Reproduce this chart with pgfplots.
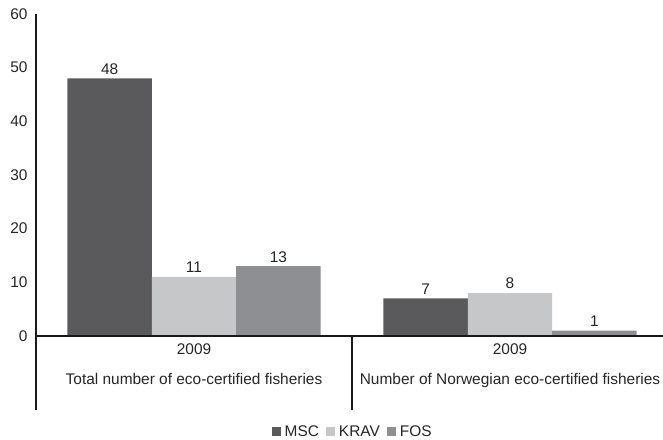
\documentclass[border=0pt]{standalone}
\usepackage{pgfplots}
\pgfplotsset{compat=1.18}
\usepackage{fontspec}
\setmainfont{Liberation Sans}
\definecolor{msc}{HTML}{5A5A5C}
\definecolor{krav}{HTML}{C6C7C9}
\definecolor{fos}{HTML}{8E8F92}
\newcommand{\f}{\fontsize{15.5}{18}\selectfont}
\begin{document}
\begin{tikzpicture}
\begin{axis}[
  scale only axis, width=627bp, height=322bp,
  xmin=0, xmax=1.984, ymin=0, ymax=60,
  ytick={0,10,...,60},
  xtick={0.5,1.5},
  xticklabels={{2009\\[12bp]Total number of eco-certified fisheries},{2009\\[12bp]Number of Norwegian eco-certified fisheries}},
  axis line style={draw=none},
  major tick length=0pt,
  clip=false,
  /pgf/number format/assume math mode=true,
  tick label style={font=\f, text=black!85},
  yticklabel style={xshift=-5bp},
  xticklabel style={align=center, yshift=-4bp},
  ybar, bar width=0.267, bar shift=0pt,
  nodes near coords,
  every node near coord/.append style={font=\f, text=black!85, yshift=0.5bp},
  legend style={at={(0.505,-0.298)}, anchor=center, draw=none, legend columns=3, font=\f, text=black!85,
    /tikz/every odd column/.append style={column sep=2bp},
    /tikz/every even column/.append style={column sep=5bp}, inner sep=0pt},
]
\addplot[fill=msc, draw=none, legend image code/.code={\fill[msc] (0bp,-4.5bp) rectangle (9bp,4.5bp);}] coordinates {(0.233,48) (1.233,7)};
\addplot[fill=krav, draw=none, legend image code/.code={\fill[krav] (0bp,-4.5bp) rectangle (9bp,4.5bp);}] coordinates {(0.5,11) (1.5,8)};
\addplot[fill=fos, draw=none, legend image code/.code={\fill[fos] (0bp,-4.5bp) rectangle (9bp,4.5bp);}] coordinates {(0.767,13) (1.767,1)};
\legend{MSC,KRAV,FOS}
\draw[line width=1.8bp, black!90] (axis cs:0,60) -- (axis cs:0,-13.8);
\draw[line width=1.8bp, black!90] (axis cs:0,0) -- (axis cs:1.984,0);
\draw[line width=1.8bp, black!90] (axis cs:1,0) -- (axis cs:1,-13.8);
\coordinate (bl) at (axis cs:-0.1139,-19.38);
\coordinate (tr) at (axis cs:1.984,62.61);
\end{axis}
\pgfresetboundingbox
\path (bl) rectangle (tr);
\end{tikzpicture}
\end{document}
